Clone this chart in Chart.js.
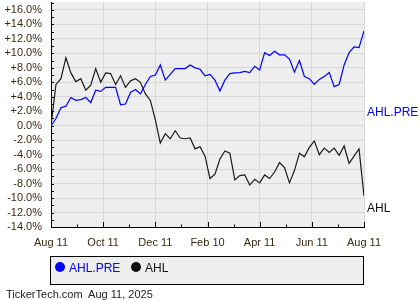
<!DOCTYPE html>
<html>
<head>
<meta charset="utf-8">
<script src="https://cdn.jsdelivr.net/npm/chart.js@4.4.1/dist/chart.umd.min.js"></script>
<style>
  html, body { margin: 0; padding: 0; background: #fff; }
  #wrap { position: relative; width: 420px; height: 300px; font-family: "Liberation Sans", Arial, sans-serif; }
  #chart { position: absolute; left: 0; top: 0; }
  #legend { position: absolute; left: 50px; top: 256px; width: 312px; height: 27px; background: #eeeeee; border: 1px solid #000; }
  .dot { position: absolute; width: 10px; height: 10px; border-radius: 50%; top: 5px; }
  .lab { position: absolute; top: 4px; font-size: 12px; line-height: 14px; }
  #footer { position: absolute; left: 6px; top: 288px; font-size: 11px; line-height: 13px; color: #222; white-space: pre; }
</style>
</head>
<body>
<div id="wrap">
  <canvas id="chart" width="420" height="300"></canvas>
  <div id="legend">
    <div class="dot" style="left:4px;background:#0000ff"></div>
    <div class="lab" style="left:18px;color:#0000ff">AHL.PRE</div>
    <div class="dot" style="left:80px;background:#111"></div>
    <div class="lab" style="left:94px;color:#111">AHL</div>
  </div>
  <div id="footer">TickerTech.com  Aug 11, 2025</div>
</div>
<script>
// ----------------------------------------------------------
// DATA (percent change, roughly every 5-6 days)
// ----------------------------------------------------------
const xTickLabels = ["Aug 11", "", "Oct 11", "", "Dec 11", "", "Feb 10", "", "Apr 11", "", "Jun 11", "", "Aug 11"];

const ahlPre = [
    0.0, 1.0, 2.5, 2.7, 3.9, 3.5, 3.6, 3.9, 3.2, 4.9,
    4.75, 5.3, 5.3, 5.3, 2.9, 3.0, 4.6, 5.0, 4.4, 5.7,
    6.8, 7.0, 8.4, 6.3, 7.1, 7.9, 7.9, 7.9, 8.4, 8.0,
    7.8, 6.9, 7.1, 6.3, 4.8, 6.3, 7.2, 7.3, 7.35, 7.5,
    7.35, 8.2, 7.7, 10.1, 9.7, 10.3, 9.8, 9.8, 9.2, 7.4,
    9.0, 6.8, 6.5, 5.7, 6.4, 6.8, 7.35, 5.4, 5.7, 8.4,
    10.1, 10.9, 10.8, 13.1
];

const ahl = [
    0.0, 5.7, 6.5, 9.4, 7.3, 6.1, 6.5, 4.9, 5.6, 7.9,
    6.0, 7.3, 7.2, 5.7, 6.9, 5.3, 6.2, 6.5, 6.0, 4.4,
    3.5, 0.8, -2.4, -1.1, -1.8, -0.7, -1.7, -1.8, -1.7, -3.2,
    -2.9, -4.2, -7.3, -6.7, -4.6, -3.5, -3.8, -7.5, -6.9, -6.8,
    -8.2, -7.4, -7.9, -6.8, -7.3, -6.4, -5.1, -5.8, -7.9, -6.2,
    -3.8, -4.3, -3.0, -2.1, -4.0, -3.1, -3.7, -3.1, -4.1, -2.8,
    -5.2, -4.2, -3.2, -9.7
];

const yMin = -14, yMax = 17.1;
const tagValues = { pre: 1.8, ahl: -11.4 };   // where the right-hand names sit

const TEXT = "#3b2a12";
const GRID = "#d8d8d8";
const pts = arr => arr.map((v, i) => ({ x: i, y: v }));

// ----------------------------------------------------------
// PLUGINS
// ----------------------------------------------------------
const plotBg = {
    id: "plotBg",
    beforeDraw(chart) {
        const { ctx, chartArea: a } = chart;
        ctx.save();
        ctx.fillStyle = "#eeeeee";
        ctx.fillRect(a.left, a.top, a.right - a.left, a.bottom - a.top);
        ctx.restore();
    }
};

const innerTicks = {
    id: "innerTicks",
    afterDraw(chart) {
        const { ctx, chartArea: a, scales: { x, y } } = chart;
        ctx.save();
        ctx.strokeStyle = "#000";
        ctx.lineWidth = 1;
        ctx.beginPath();
        y.ticks.forEach(t => {
            const py = Math.round(y.getPixelForValue(t.value)) + 0.5;
            ctx.moveTo(a.left, py);
            ctx.lineTo(a.left + 3, py);
        });
        x.ticks.forEach((t, i) => {
            const px = Math.round(x.getPixelForValue(t.value)) + 0.5;
            const len = xTickLabels[i] ? 5 : 2.5;
            ctx.moveTo(px, a.bottom);
            ctx.lineTo(px, a.bottom - len);
        });
        ctx.stroke();

        // series names at the right
        ctx.font = "12px 'Liberation Sans', Arial, sans-serif";
        ctx.textAlign = "left";
        ctx.textBaseline = "middle";
        ctx.fillStyle = "#0000ff";
        ctx.fillText("AHL.PRE", a.right + 3, y.getPixelForValue(tagValues.pre));
        ctx.fillStyle = "#111";
        ctx.fillText("AHL", a.right + 3, y.getPixelForValue(tagValues.ahl));
        ctx.restore();
    }
};

// ----------------------------------------------------------
// CHART
// ----------------------------------------------------------
const font = { family: "'Liberation Sans', Arial, sans-serif", size: 11 };

new Chart(document.getElementById("chart").getContext("2d"), {
    type: "line",
    data: {
        datasets: [{
            label: "AHL.PRE",
            data: pts(ahlPre),
            borderColor: "#0000ff",
            borderWidth: 1.2,
            pointRadius: 0,
            tension: 0
        }, {
            label: "AHL",
            data: pts(ahl),
            borderColor: "#1a1a1a",
            borderWidth: 1.2,
            pointRadius: 0,
            tension: 0
        }]
    },
    options: {
        responsive: false,
        animation: false,
        layout: { padding: { left: 0, top: 2, right: 56, bottom: 0 } },
        plugins: { legend: { display: false }, tooltip: { enabled: false } },
        scales: {
            x: {
                type: "linear",
                min: 0,
                max: ahl.length - 1,
                afterBuildTicks: s => {
                    s.ticks = xTickLabels.map((t, i) => ({ value: i * (ahl.length - 1) / (xTickLabels.length - 1) }));
                },
                afterFit: s => { s.height = 73; s.paddingLeft = 0; s.paddingRight = 0; },
                grid: {
                    drawTicks: false,
                    lineWidth: 1,
                    color: c => (c.index > 0 && xTickLabels[c.index]) ? GRID : "rgba(0,0,0,0)"
                },
                border: { display: true, color: "#000", width: 1 },
                ticks: {
                    autoSkip: false,
                    maxRotation: 0,
                    padding: 9,
                    color: TEXT,
                    font: font,
                    callback: (v, i) => xTickLabels[i]
                }
            },
            y: {
                min: yMin,
                max: yMax,
                afterBuildTicks: s => {
                    const t = [];
                    for (let v = -14; v <= 17; v++) t.push({ value: v });
                    s.ticks = t;
                },
                afterFit: s => { s.width = 51; s.paddingTop = 0; s.paddingBottom = 0; },
                grid: {
                    drawTicks: false,
                    lineWidth: 1,
                    color: c => (c.tick && c.tick.value % 2 === 0 && c.tick.value > yMin) ? GRID : "rgba(0,0,0,0)"
                },
                border: { display: true, color: "#000", width: 1 },
                ticks: {
                    autoSkip: false,
                    padding: 9,
                    color: TEXT,
                    font: font,
                    callback: v => {
                        if (v % 2 !== 0) return "";
                        return (v > 0 ? "+" : "") + v.toFixed(1) + "%";
                    }
                }
            }
        }
    },
    plugins: [plotBg, innerTicks]
});
</script>
</body>
</html>
